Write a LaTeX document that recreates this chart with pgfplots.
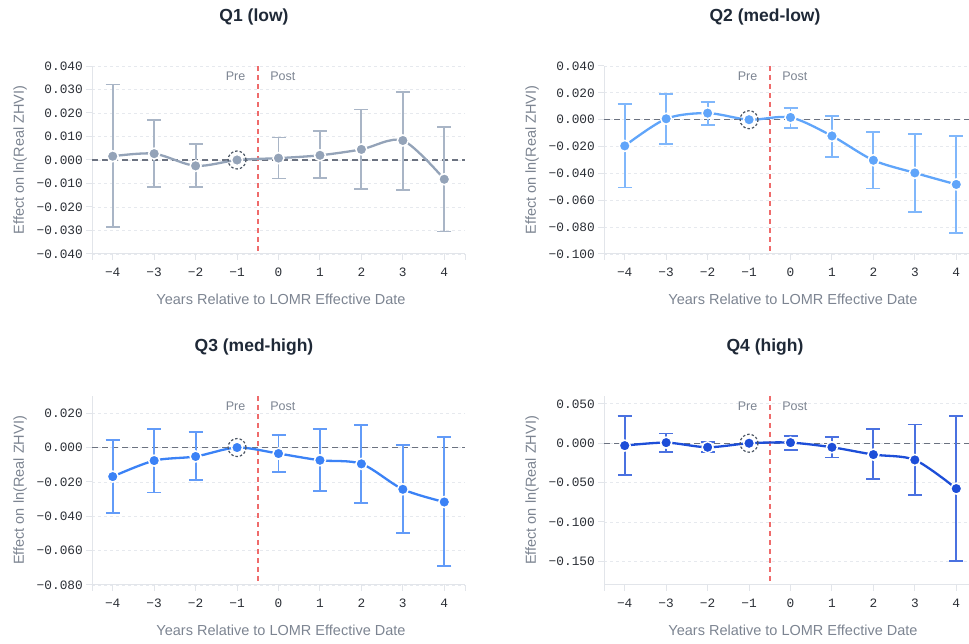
\documentclass[border=0pt]{standalone}
\usepackage{pgfplots}
\pgfplotsset{compat=1.18}
\usepackage{pgfplotstable}
\usepackage{fontspec}
\setmainfont{Liberation Sans}
\newfontfamily\monofont{Liberation Mono}
\definecolor{axisgray}{HTML}{E2E5EA}
\definecolor{gridgray}{HTML}{E6E9EE}
\definecolor{ticktext}{HTML}{2B2F36}
\definecolor{labelgray}{HTML}{7C8491}
\definecolor{titlecol}{HTML}{1F2937}
\definecolor{refred}{HTML}{EF6B6B}
\definecolor{zerogray}{HTML}{6B7280}
\definecolor{circgray}{HTML}{4B5563}
\definecolor{cQa}{HTML}{94A3B8}
\definecolor{cQb}{HTML}{60A5FA}
\definecolor{cQc}{HTML}{3B82F6}
\definecolor{cQd}{HTML}{1D4ED8}

% x = years relative, y = estimate, ep/em = distance to upper/lower CI bound
\pgfplotstableread{
x y ep em
-4 0.0016 0.0305 0.0302
-3 0.0027 0.0144 0.0143
-2 -0.0025 0.0093 0.0091
-1 0.0000 0 0
0 0.0008 0.0088 0.0087
1 0.0020 0.0102 0.0098
2 0.0045 0.0170 0.0169
3 0.0083 0.0208 0.0209
4 -0.0082 0.0223 0.0222
}\qa
\pgfplotstableread{
x y ep em
-4 -0.0195 0.0314 0.0310
-3 0.0007 0.0186 0.0185
-2 0.0049 0.0082 0.0086
-1 0.0000 0 0
0 0.0017 0.0070 0.0076
1 -0.0121 0.0151 0.0154
2 -0.0302 0.0210 0.0210
3 -0.0396 0.0287 0.0292
4 -0.0482 0.0363 0.0364
}\qb
\pgfplotstableread{
x y ep em
-4 -0.0169 0.0212 0.0210
-3 -0.0076 0.0183 0.0186
-2 -0.0052 0.0141 0.0138
-1 0.0000 0 0
0 -0.0035 0.0109 0.0107
1 -0.0074 0.0181 0.0178
2 -0.0095 0.0227 0.0227
3 -0.0243 0.0257 0.0256
4 -0.0317 0.0377 0.0374
}\qc
\pgfplotstableread{
x y ep em
-4 -0.0030 0.0373 0.0372
-3 0.0008 0.0115 0.0122
-2 -0.0051 0.0064 0.0063
-1 0.0000 0 0
0 0.0008 0.0081 0.0093
1 -0.0051 0.0131 0.0131
2 -0.0144 0.0322 0.0313
3 -0.0212 0.0449 0.0449
4 -0.0576 0.0923 0.0924
}\qd

\pgfplotsset{
  panel/.style={
    scale only axis, anchor=south west,
    height=188pt, xmin=-4.5,
    axis lines*=left,
    axis line style={draw=axisgray, line width=1pt},
    xtick={-4,...,4},
    xticklabels={−4,−3,−2,−1,0,1,2,3,4},
    scaled y ticks=false, scaled x ticks=false,
    tick align=outside, major tick length=6pt,
    tick style={draw=axisgray, line width=1pt},
    ymajorgrids,
    grid style={draw=gridgray, dash pattern=on 3pt off 3pt, line width=0.8pt},
    ticklabel style={font=\monofont\fontsize{12.8}{14}\selectfont, text=ticktext},
    xticklabel style={anchor=north, inner sep=0pt, yshift=-8pt},
    yticklabel style={anchor=east, inner sep=0pt, xshift=-3pt},
    xlabel={Years Relative to LOMR Effective Date},
    ylabel={Effect on ln(Real ZHVI)},
    every axis x label/.style={at={(axis description cs:0,0)}, anchor=center,
      xshift=189pt, yshift=-45pt, font=\fontsize{14.5}{16}\selectfont, text=labelgray},
    every axis y label/.style={at={(axis description cs:0,0.5)}, anchor=center,
      xshift=-72pt, rotate=90, font=\fontsize{14.5}{16}\selectfont, text=labelgray},
  },
  leftpanel/.style={panel, width=373pt, xmax=4.5, extra x ticks={-4.5,4.5}, extra x tick labels={,}},
  rightpanel/.style={panel, width=365pt, xmax=4.307, extra x ticks={-4.5}, extra x tick labels={}},
}

\newcommand{\refmarks}[3]{% ymin, ymax, color
  \addplot[forget plot, zerogray, line width=1.1pt, dash pattern=on 6pt off 4pt] coordinates {(-4.5,0) (4.5,0)};
  \draw[refred, line width=1.6pt, dash pattern=on 5pt off 4pt] (axis cs:-0.5,#2) -- (axis cs:-0.5,#1);
  \node[anchor=east, font=\fontsize{12.5}{14}\selectfont, text=labelgray, xshift=-9pt, yshift=-10pt] at (axis cs:-0.5,#2) {Pre};
  \node[anchor=west, font=\fontsize{12.5}{14}\selectfont, text=labelgray, xshift=9pt, yshift=-10pt] at (axis cs:-0.5,#2) {Post};
}
\newcommand{\series}[2]{% table, color
  \addplot[forget plot, draw=none, mark=none, skip coords between index={3}{4},
    error bars/.cd, y dir=both, y explicit,
    error bar style={draw=#2!80!white, line width=1.8pt},
    error mark options={draw=#2!80!white, line width=1.8pt, mark size=7pt, rotate=90}]
    table[x=x, y=y, y error plus=ep, y error minus=em] {#1};
  \addplot[forget plot, #2, line width=2.3pt, smooth, mark=none] table[x=x, y=y] {#1};
  \addplot[forget plot, only marks, mark=*, mark size=5.5pt,
    mark options={fill=#2, draw=white, line width=1.5pt}] table[x=x, y=y] {#1};
  \addplot[forget plot, only marks, mark=o, mark size=9pt,
    mark options={draw=circgray, line width=1.2pt, dash pattern=on 2.5pt off 2pt}] coordinates {(-1,0)};
}

\begin{document}
\begin{tikzpicture}
\path[use as bounding box] (0pt,0pt) rectangle (969pt,644pt);

\node[font=\bfseries\fontsize{17.5}{20}\selectfont, text=titlecol] at (254pt,627pt) {Q1 (low)};
\node[font=\bfseries\fontsize{17.5}{20}\selectfont, text=titlecol] at (765pt,627pt) {Q2 (med-low)};
\node[font=\bfseries\fontsize{17.5}{20}\selectfont, text=titlecol] at (254pt,297pt) {Q3 (med-high)};
\node[font=\bfseries\fontsize{17.5}{20}\selectfont, text=titlecol] at (765pt,297pt) {Q4 (high)};

\begin{axis}[leftpanel, at={(92pt,390pt)}, ymin=-0.04, ymax=0.04,
  ytick={-0.04,-0.03,-0.02,-0.01,0,0.01,0.02,0.03,0.04},
  yticklabels={−0.040,−0.030,−0.020,−0.010,0.000,0.010,0.020,0.030,0.040}]
  \refmarks{-0.04}{0.04}{cQa}
  \series{\qa}{cQa}
\end{axis}

\begin{axis}[rightpanel, at={(604pt,390pt)}, ymin=-0.1, ymax=0.04,
  ytick={-0.1,-0.08,-0.06,-0.04,-0.02,0,0.02,0.04},
  yticklabels={−0.100,−0.080,−0.060,−0.040,−0.020,0.000,0.020,0.040}]
  \refmarks{-0.1}{0.04}{cQb}
  \series{\qb}{cQb}
\end{axis}

\begin{axis}[leftpanel, at={(92pt,59pt)}, height=189pt, ymin=-0.08, ymax=0.03,
  ytick={-0.08,-0.06,-0.04,-0.02,0,0.02},
  yticklabels={−0.080,−0.060,−0.040,−0.020,0.000,0.020}]
  \refmarks{-0.08}{0.03}{cQc}
  \series{\qc}{cQc}
\end{axis}

\begin{axis}[rightpanel, at={(604pt,59pt)}, height=189pt, ymin=-0.18, ymax=0.06,
  ytick={-0.15,-0.1,-0.05,0,0.05},
  yticklabels={−0.150,−0.100,−0.050,0.000,0.050}]
  \refmarks{-0.18}{0.06}{cQd}
  \series{\qd}{cQd}
\end{axis}
\end{tikzpicture}
\end{document}
